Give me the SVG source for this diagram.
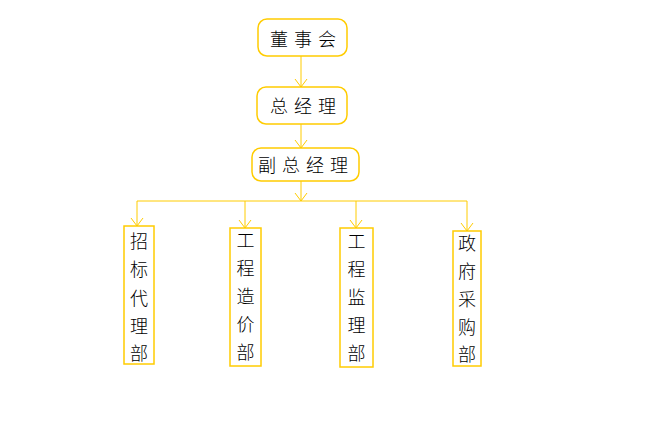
<svg xmlns="http://www.w3.org/2000/svg" width="660" height="440" viewBox="0 0 660 440">
<style>
.box{fill:#fff;stroke:#FFCC00;stroke-width:1.5}
.ln{fill:none;stroke:#FFCC00;stroke-width:1}
.t{font-family:"Noto Sans CJK SC","Noto Sans",sans-serif;font-size:18px;font-weight:300;fill:#000;text-anchor:middle;dominant-baseline:central}
.h{letter-spacing:6px}
</style>
<rect width="660" height="440" fill="#fff"/>
<g id="connectors">
<path class="ln" d="M301,56 L301,87 M295,79 L301,87 L307,79"/>
<path class="ln" d="M301,124 L301,148 M295,140 L301,148 L307,140"/>
<path class="ln" d="M301,181 L301,201 M295,193 L301,201 L307,193"/>
<line class="ln" x1="137" y1="201" x2="467" y2="201"/>
<path class="ln" d="M137,201 L137,226 M131,218 L137,226 L143,218"/>
<path class="ln" d="M245,201 L245,228 M239,220 L245,228 L251,220"/>
<path class="ln" d="M356,201 L356,228 M350,220 L356,228 L362,220"/>
<path class="ln" d="M467,201 L467,231 M461,223 L467,231 L473,223"/>
</g>
<g id="n1">
<rect class="box" x="258" y="19" width="89" height="37" rx="9"/>
<text class="t h" x="306" y="38">董事会</text>
</g>
<g id="n2">
<rect class="box" x="257" y="87" width="90" height="37" rx="9"/>
<text class="t h" x="306" y="105">总经理</text>
</g>
<g id="n3">
<rect class="box" x="252" y="148" width="107" height="33" rx="9"/>
<text class="t h" x="306" y="164">副总经理</text>
</g>
<g id="n4">
<rect class="box" x="124" y="226" width="30" height="138"/>
<text class="t" x="139" y="240">招</text>
<text class="t" x="139" y="268">标</text>
<text class="t" x="139" y="297">代</text>
<text class="t" x="139" y="325">理</text>
<text class="t" x="139" y="352">部</text>
</g>
<g id="n5">
<rect class="box" x="230" y="228" width="31" height="138"/>
<text class="t" x="245.5" y="239">工</text>
<text class="t" x="245.5" y="267">程</text>
<text class="t" x="245.5" y="295">造</text>
<text class="t" x="245.5" y="323">价</text>
<text class="t" x="245.5" y="351">部</text>
</g>
<g id="n6">
<rect class="box" x="340" y="228" width="33" height="139"/>
<text class="t" x="356.5" y="240">工</text>
<text class="t" x="356.5" y="268">程</text>
<text class="t" x="356.5" y="296">监</text>
<text class="t" x="356.5" y="324">理</text>
<text class="t" x="356.5" y="352">部</text>
</g>
<g id="n7">
<rect class="box" x="453" y="231" width="28" height="135"/>
<text class="t" x="467" y="242">政</text>
<text class="t" x="467" y="270">府</text>
<text class="t" x="467" y="298">采</text>
<text class="t" x="467" y="326">购</text>
<text class="t" x="467" y="353">部</text>
</g>
</svg>
